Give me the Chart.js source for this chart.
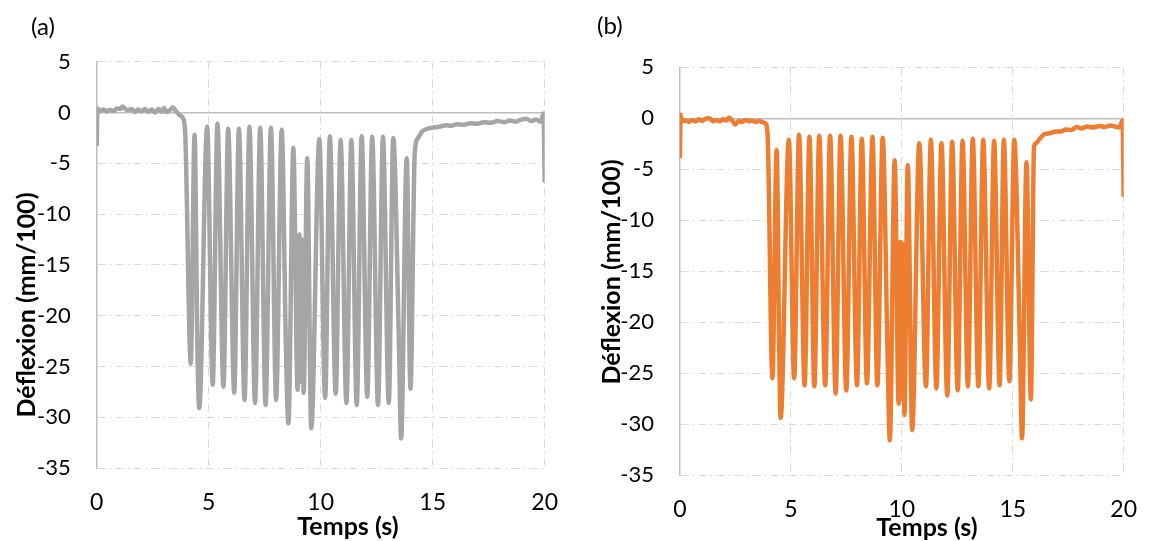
<!DOCTYPE html>
<html>
<head>
<meta charset="utf-8">
<script src="https://cdn.jsdelivr.net/npm/chart.js@4.4.1/dist/chart.umd.min.js"></script>
<style>
  html, body { margin: 0; padding: 0; background: #fff; }
  .panel { position: absolute; top: 0; }
  #panelA { left: 0; }
  #panelB { left: 579px; }
</style>
</head>
<body>
<div class="panel" id="panelA"><canvas id="chartA" width="579" height="541"></canvas></div>
<div class="panel" id="panelB"><canvas id="chartB" width="579" height="541"></canvas></div>
<script>
const xTitle = 'Temps (s)';
const yTitle = 'Déflexion (mm/100)';
const xTicks = [0, 5, 10, 15, 20];
const yTicks = [5, 0, -5, -10, -15, -20, -25, -30, -35];

// (a) mesure grise
const tempsA = [
  0.00, 0.03, 0.15, 0.30, 0.45, 0.60, 0.75, 0.90, 1.05, 1.15, 1.25, 1.40, 1.55, 1.70, 1.85,
  2.00, 2.15, 2.30, 2.45, 2.60, 2.75, 2.90, 3.00, 3.10, 3.25, 3.40, 3.55, 3.70, 3.85, 3.95,
  4.20, 4.37, 4.50, 4.58, 4.93, 5.18, 5.39, 5.66, 5.87, 6.14, 6.35, 6.60, 6.82, 7.07, 7.30,
  7.54, 7.78, 8.01, 8.26, 8.45, 8.56, 8.78, 8.97, 9.05, 9.11, 9.17, 9.24, 9.40, 9.58, 9.94,
  10.20, 10.41, 10.67, 10.89, 11.15, 11.37, 11.61, 11.83, 12.08, 12.30, 12.56, 12.78, 13.04, 13.24, 13.50,
  13.59, 13.84, 14.01, 14.20, 14.35, 14.52, 14.75, 14.96, 15.30, 15.60, 15.83, 16.10, 16.40, 16.70, 17.00,
  17.30, 17.60, 17.90, 18.20, 18.45, 18.70, 18.95, 19.18, 19.40, 19.60, 19.83, 19.95, 20.00
];
const deflexionA = [
  -3.3, 0.4, 0.15, 0.3, 0.1, 0.25, 0.15, 0.4, 0.35, 0.6, 0.4, 0.2, 0.35, 0.05, 0.3,
  0.1, 0.35, 0.05, 0.3, 0.0, 0.35, 0.1, 0.45, 0.05, 0.2, 0.5, 0.1, -0.25, -0.55, -2.0,
  -24.7, -2.2, -23.7, -29.1, -1.4, -26.8, -1.1, -27.0, -1.6, -27.6, -1.6, -28.3, -1.4, -28.6, -1.5,
  -28.8, -1.5, -28.3, -1.7, -23.4, -30.6, -3.5, -27.3, -12.0, -26.5, -12.5, -27.6, -4.5, -31.1, -2.6,
  -28.1, -2.35, -27.7, -2.7, -28.6, -2.7, -28.8, -2.35, -28.0, -2.4, -28.8, -2.4, -28.6, -2.5, -23.4,
  -32.1, -4.5, -27.2, -4.0, -2.5, -1.9, -1.6, -1.5, -1.4, -1.25, -1.3, -1.15, -1.2, -1.05, -1.1,
  -0.95, -1.0, -0.85, -0.95, -0.8, -0.9, -0.7, -0.62, -0.85, -0.7, -0.9, -0.1, -6.9
];

// (b) mesure orange
const tempsB = [
  0.00, 0.03, 0.10, 0.25, 0.40, 0.55, 0.70, 0.85, 1.00, 1.15, 1.33, 1.50, 1.65, 1.80, 1.95,
  2.10, 2.22, 2.35, 2.50, 2.65, 2.80, 2.95, 3.10, 3.25, 3.40, 3.55, 3.70, 3.85, 3.95,
  4.17, 4.36, 4.48, 4.54, 4.91, 5.15, 5.37, 5.62, 5.84, 6.06, 6.28, 6.55, 6.77, 7.02, 7.24,
  7.50, 7.73, 7.98, 8.20, 8.43, 8.68, 8.90, 9.14, 9.36, 9.46, 9.68, 9.86, 9.94, 10.00, 10.05,
  10.12, 10.27, 10.47, 10.79, 11.09, 11.31, 11.56, 11.79, 12.05, 12.27, 12.52, 12.74, 12.98, 13.20, 13.45,
  13.67, 13.94, 14.16, 14.41, 14.60, 14.85, 15.07, 15.32, 15.42, 15.62, 15.82, 15.96, 16.04, 16.18, 16.40,
  16.70, 16.95, 17.15, 17.40, 17.65, 17.88, 18.10, 18.35, 18.60, 18.92, 19.15, 19.40, 19.60, 19.80, 19.95, 20.00
];
const deflexionB = [
  -3.9, 0.35, -0.3, -0.2, -0.35, -0.15, -0.3, -0.1, -0.25, -0.05, 0.0, -0.3, -0.15, -0.3, -0.1,
  -0.2, 0.05, -0.2, -0.6, -0.25, -0.35, -0.15, -0.3, -0.2, -0.35, -0.25, -0.35, -0.5, -1.5,
  -25.5, -3.1, -23.1, -29.4, -2.1, -25.5, -1.6, -26.2, -1.8, -26.3, -1.7, -26.2, -1.7, -27.0, -1.7,
  -26.7, -1.8, -26.2, -2.0, -26.0, -1.8, -26.2, -1.9, -23.1, -31.6, -4.1, -28.0, -12.1, -27.5, -12.3,
  -29.1, -4.6, -30.6, -2.45, -26.3, -2.1, -26.5, -2.45, -27.2, -2.3, -26.7, -2.2, -26.3, -2.0, -26.3,
  -2.1, -26.5, -2.2, -26.2, -2.1, -25.8, -2.1, -21.8, -31.4, -4.3, -27.6, -2.8, -2.45, -2.1, -1.6,
  -1.45, -1.3, -1.3, -1.1, -1.15, -0.85, -1.0, -0.8, -0.9, -0.75, -0.85, -0.7, -0.8, -0.9, -0.2, -7.7
];

const textesPanneau = {
  id: 'textesPanneau',
  afterDraw(chart, args, opts) {
    const ctx = chart.ctx;
    ctx.save();
    ctx.fillStyle = '#000';
    ctx.textBaseline = 'middle';
    ctx.textAlign = 'left';
    ctx.font = '24px Lato';
    ctx.fillText(opts.label, opts.labelX, opts.labelY);
    ctx.textAlign = 'center';
    ctx.font = 'bold 25px Lato';
    ctx.fillText(xTitle, opts.xTitleX, opts.xTitleY);
    ctx.translate(opts.yTitleX, opts.yTitleY);
    ctx.rotate(-Math.PI / 2);
    ctx.fillText(yTitle, 0, 0);
    ctx.restore();
  }
};

const tiretPoint = [8, 4, 2, 4];

function creerGraphique(id, temps, deflexion, couleur, cadre, textes) {
  return new Chart(document.getElementById(id), {
    type: 'line',
    data: {
      datasets: [{
        data: temps.map((t, i) => ({x: t, y: deflexion[i]})),
        borderColor: couleur,
        borderWidth: 4.5,
        pointRadius: 0,
        cubicInterpolationMode: 'monotone',
        fill: false
      }]
    },
    options: {
      responsive: false,
      animation: false,
      devicePixelRatio: 1,
      layout: { padding: { left: 0, top: cadre.top, right: cadre.right, bottom: 0 } },
      scales: {
        x: {
          type: 'linear',
          min: 0,
          max: 20,
          afterFit: (s) => { s.height = cadre.xHeight; },
          afterBuildTicks: (s) => { s.ticks = xTicks.map(v => ({value: v})); },
          grid: { color: '#d9d9d9', lineWidth: 1, drawTicks: false },
          border: { display: false, dash: tiretPoint },
          ticks: {
            color: '#000',
            font: { family: 'Lato', size: 23 },
            padding: 21,
            maxRotation: 0,
            autoSkip: false
          }
        },
        y: {
          min: -35,
          max: 5,
          afterFit: (s) => { s.width = cadre.left; },
          afterBuildTicks: (s) => { s.ticks = yTicks.map(v => ({value: v})); },
          grid: {
            color: (c) => (c.tick && c.tick.value === 0) ? '#bfbfbf' : '#d9d9d9',
            lineWidth: (c) => (c.tick && c.tick.value === 0) ? 1.5 : 1,
            drawTicks: false
          },
          border: {
            display: true,
            color: '#bfbfbf',
            width: 1.5,
            dash: (c) => (c.tick && c.tick.value === 0) ? [] : tiretPoint
          },
          ticks: {
            color: '#000',
            font: { family: 'Lato', size: 22 },
            padding: 26,
            autoSkip: false
          }
        }
      },
      plugins: {
        legend: { display: false },
        tooltip: { enabled: false },
        textesPanneau: textes
      }
    },
    plugins: [textesPanneau]
  });
}

creerGraphique('chartA', tempsA, deflexionA, '#a5a5a5',
  { left: 96.7, right: 23.3, top: 61.7, xHeight: 73 },
  { label: '(a)', labelX: 31, labelY: 27, xTitleX: 348, xTitleY: 527, yTitleX: 27, yTitleY: 305 });

creerGraphique('chartB', tempsB, deflexionB, '#ed7d31',
  { left: 100.9, right: 27, top: 67.4, xHeight: 66 },
  { label: '(b)', labelX: 18, labelY: 26, xTitleX: 348, xTitleY: 528, yTitleX: 33, yTitleY: 272 });
</script>
</body>
</html>
